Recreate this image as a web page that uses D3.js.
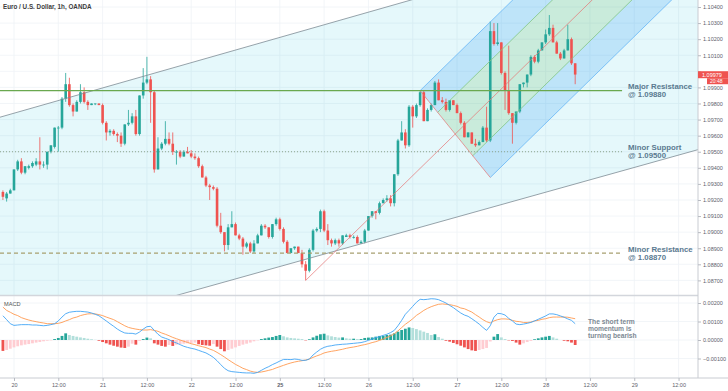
<!DOCTYPE html>
<html>
<head>
<meta charset="utf-8">
<script src="https://cdn.jsdelivr.net/npm/d3@7"></script>
<style>
  body { margin: 0; background: #fff; }
  svg { display: block; font-family: "Liberation Sans", Arial, sans-serif; }
</style>
</head>
<body>
<div id="chart"></div>
<script>
// EUR/USD 1h candles (bar 0 = 19th 21:00)
const opens = [
  1.0925,1.0921,1.0924,1.0926,1.0939,1.0944,1.0937,1.0940,1.0941,1.0942,
  1.0944,1.0942,1.0942,1.0950,1.0953,1.0965,1.0965,1.0983,1.0992,1.0979,
  1.0975,1.0981,1.0987,1.0981,1.0979,1.0980,1.0980,1.0979,1.0968,1.0962,
  1.0963,1.0961,1.0960,1.0955,1.0967,1.0968,1.0972,1.0961,1.0985,1.0993,
  1.0995,1.0987,1.0939,1.0952,1.0955,1.0958,1.0955,1.0950,1.0950,1.0947,
  1.0950,1.0949,1.0947,1.0946,1.0941,1.0934,1.0929,1.0928,1.0927,1.0904,
  1.0900,1.0892,1.0903,1.0905,1.0898,1.0896,1.0891,1.0893,1.0888,1.0893,
  1.0898,1.0904,1.0903,1.0897,1.0905,1.0908,1.0902,1.0894,1.0887,1.0890,
  1.0891,1.0887,1.0880,1.0876,1.0889,1.0901,1.0902,1.0913,1.0901,1.0895,
  1.0893,1.0895,1.0893,1.0897,1.0898,1.0897,1.0897,1.0893,1.0894,1.0901,
  1.0910,1.0913,1.0912,1.0918,1.0920,1.0921,1.0918,1.0936,1.0957,1.0962,
  1.0954,1.0978,1.0972,1.0979,1.0987,1.0969,1.0976,1.0979,1.0993,1.0982,
  1.0981,1.0976,1.0982,1.0979,1.0974,1.0968,1.0959,1.0962,1.0955,1.0954,
  1.0956,1.0965,1.0957,1.1025,1.1017,1.1018,1.0999,1.0988,1.0974,1.0968,
  1.0975,1.0992,1.0993,1.0998,1.1009,1.1006,1.1013,1.1018,1.1023,1.1027,
  1.1018,1.1011,1.1008,1.1013,1.1020,1.1005
];
const highs = [
  1.0926,1.0925,1.0927,1.0939,1.0945,1.0946,1.0941,1.0942,1.0944,1.0946,
  1.0959,1.0944,1.0950,1.0954,1.0965,1.0966,1.0984,1.0999,1.0996,1.0980,
  1.0982,1.0992,1.0990,1.0982,1.0980,1.0980,1.0980,1.0980,1.0969,1.0964,
  1.0964,1.0962,1.0962,1.0967,1.0976,1.0974,1.0976,1.0985,1.1002,1.1009,
  1.0997,1.0988,1.0959,1.0956,1.0969,1.0962,1.0962,1.0951,1.0951,1.0951,
  1.0953,1.0951,1.0949,1.0947,1.0942,1.0935,1.0930,1.0929,1.0928,1.0912,
  1.0900,1.0905,1.0913,1.0906,1.0899,1.0897,1.0894,1.0894,1.0895,1.0899,
  1.0905,1.0905,1.0903,1.0905,1.0909,1.0909,1.0903,1.0895,1.0890,1.0891,
  1.0891,1.0889,1.0882,1.0890,1.0902,1.0903,1.0914,1.0914,1.0905,1.0896,
  1.0896,1.0896,1.0898,1.0899,1.0899,1.0898,1.0898,1.0895,1.0902,1.0910,
  1.0913,1.0913,1.0919,1.0921,1.0923,1.0923,1.0936,1.0958,1.0969,1.0964,
  1.0979,1.0979,1.0980,1.0988,1.0988,1.0977,1.0980,1.0994,1.0995,1.0984,
  1.0983,1.0982,1.0982,1.0980,1.0975,1.0969,1.0962,1.0962,1.0958,1.0957,
  1.0966,1.0978,1.1031,1.1030,1.1030,1.1018,1.1000,1.1016,1.0974,1.0975,
  1.0992,1.0993,1.0998,1.1010,1.1010,1.1014,1.1018,1.1026,1.1035,1.1029,
  1.1019,1.1012,1.1014,1.1029,1.1021,1.1005
];
const lows = [
  1.0920,1.0919,1.0924,1.0926,1.0938,1.0936,1.0936,1.0939,1.0940,1.0941,
  1.0939,1.0940,1.0939,1.0949,1.0952,1.0950,1.0964,1.0981,1.0978,1.0972,
  1.0975,1.0980,1.0980,1.0976,1.0979,1.0979,1.0979,1.0967,1.0957,1.0960,
  1.0960,1.0956,1.0953,1.0954,1.0966,1.0967,1.0960,1.0960,1.0983,1.0992,
  1.0968,1.0937,1.0939,1.0951,1.0954,1.0954,1.0948,1.0942,1.0946,1.0947,
  1.0949,1.0946,1.0945,1.0940,1.0934,1.0928,1.0920,1.0926,1.0903,1.0899,
  1.0888,1.0889,1.0903,1.0898,1.0895,1.0886,1.0890,1.0887,1.0887,1.0893,
  1.0898,1.0902,1.0896,1.0896,1.0904,1.0901,1.0893,1.0887,1.0887,1.0889,
  1.0887,1.0878,1.0870,1.0875,1.0888,1.0900,1.0900,1.0900,1.0892,1.0891,
  1.0892,1.0891,1.0892,1.0897,1.0896,1.0896,1.0893,1.0893,1.0893,1.0901,
  1.0909,1.0908,1.0911,1.0918,1.0919,1.0916,1.0916,1.0935,1.0957,1.0952,
  1.0953,1.0965,1.0971,1.0978,1.0969,1.0969,1.0975,1.0979,1.0982,1.0980,
  1.0975,1.0975,1.0979,1.0974,1.0967,1.0959,1.0959,1.0955,1.0953,1.0954,
  1.0956,1.0956,1.0956,1.1016,1.1016,1.0998,1.0976,1.0973,1.0955,1.0967,
  1.0974,1.0990,1.0990,1.0997,1.1005,1.1005,1.1013,1.1017,1.1022,1.1018,
  1.1011,1.1007,1.1008,1.1013,1.1004,1.0992
];
const closes = [
  1.0922,1.0924,1.0926,1.0939,1.0944,1.0937,1.0941,1.0941,1.0943,1.0944,
  1.0942,1.0942,1.0950,1.0954,1.0965,1.0965,1.0983,1.0992,1.0979,1.0975,
  1.0981,1.0987,1.0981,1.0979,1.0980,1.0980,1.0979,1.0968,1.0962,1.0963,
  1.0961,1.0960,1.0955,1.0967,1.0968,1.0972,1.0961,1.0985,1.0993,1.0995,
  1.0987,1.0939,1.0952,1.0955,1.0958,1.0955,1.0950,1.0950,1.0947,1.0950,
  1.0949,1.0947,1.0946,1.0941,1.0934,1.0929,1.0928,1.0927,1.0904,1.0900,
  1.0892,1.0903,1.0905,1.0898,1.0896,1.0891,1.0893,1.0888,1.0893,1.0898,
  1.0904,1.0903,1.0897,1.0905,1.0908,1.0902,1.0894,1.0887,1.0890,1.0891,
  1.0887,1.0880,1.0876,1.0889,1.0901,1.0902,1.0913,1.0901,1.0895,1.0893,
  1.0895,1.0893,1.0898,1.0898,1.0897,1.0897,1.0893,1.0894,1.0901,1.0910,
  1.0913,1.0912,1.0918,1.0920,1.0921,1.0918,1.0936,1.0957,1.0962,1.0954,
  1.0978,1.0972,1.0979,1.0987,1.0969,1.0976,1.0979,1.0993,1.0982,1.0981,
  1.0976,1.0982,1.0979,1.0974,1.0968,1.0959,1.0962,1.0955,1.0954,1.0956,
  1.0965,1.0957,1.1025,1.1017,1.1018,1.0999,1.0988,1.0974,1.0968,1.0975,
  1.0992,1.0993,1.0998,1.1009,1.1006,1.1013,1.1018,1.1023,1.1027,1.1018,
  1.1011,1.1008,1.1013,1.1020,1.1005,1.0998
];

// MACD panel
const macdLine = [
  0.00131,0.00110,0.00088,0.00079,0.00081,0.00083,0.00083,0.00083,0.00081,0.00081,
  0.00079,0.00077,0.00079,0.00083,0.00088,0.00103,0.00124,0.00142,0.00150,0.00153,
  0.00155,0.00155,0.00153,0.00151,0.00146,0.00139,0.00131,0.00117,0.00103,0.00088,
  0.00074,0.00059,0.00047,0.00038,0.00036,0.00036,0.00032,0.00043,0.00059,0.00072,
  0.00074,0.00052,0.00031,0.00016,0.00009,0.00002,-0.00009,-0.00016,-0.00025,-0.00034,
  -0.00040,-0.00045,-0.00049,-0.00056,-0.00063,-0.00070,-0.00081,-0.00094,-0.00112,-0.00133,
  -0.00153,-0.00166,-0.00171,-0.00173,-0.00175,-0.00177,-0.00178,-0.00178,-0.00180,-0.00175,
  -0.00164,-0.00153,-0.00144,-0.00133,-0.00124,-0.00114,-0.00105,-0.00105,-0.00106,-0.00103,
  -0.00105,-0.00110,-0.00110,-0.00103,-0.00081,-0.00065,-0.00050,-0.00040,-0.00034,-0.00031,
  -0.00027,-0.00025,-0.00023,-0.00022,-0.00020,-0.00018,-0.00016,-0.00014,-0.00009,-0.00002,
  0.00005,0.00013,0.00018,0.00025,0.00031,0.00040,0.00052,0.00077,0.00106,0.00139,
  0.00160,0.00182,0.00204,0.00220,0.00218,0.00220,0.00223,0.00222,0.00218,0.00209,
  0.00200,0.00187,0.00175,0.00160,0.00146,0.00135,0.00128,0.00115,0.00101,0.00086,
  0.00068,0.00052,0.00077,0.00123,0.00144,0.00142,0.00135,0.00117,0.00103,0.00086,
  0.00083,0.00086,0.00090,0.00095,0.00103,0.00112,0.00121,0.00130,0.00141,0.00141,
  0.00137,0.00130,0.00123,0.00114,0.00106,0.00088
];
const signalLine = [
  0.00178,0.00160,0.00150,0.00139,0.00132,0.00121,0.00114,0.00108,0.00103,0.00099,
  0.00095,0.00092,0.00088,0.00088,0.00088,0.00090,0.00095,0.00103,0.00110,0.00119,
  0.00124,0.00132,0.00137,0.00141,0.00142,0.00141,0.00137,0.00132,0.00124,0.00117,
  0.00110,0.00099,0.00088,0.00077,0.00068,0.00063,0.00059,0.00056,0.00054,0.00054,
  0.00056,0.00052,0.00047,0.00038,0.00031,0.00023,0.00014,0.00007,0.00000,-0.00007,
  -0.00013,-0.00020,-0.00025,-0.00031,-0.00036,-0.00041,-0.00049,-0.00056,-0.00067,-0.00079,
  -0.00092,-0.00106,-0.00119,-0.00132,-0.00142,-0.00153,-0.00160,-0.00168,-0.00173,-0.00175,
  -0.00173,-0.00169,-0.00164,-0.00159,-0.00151,-0.00144,-0.00137,-0.00130,-0.00124,-0.00119,
  -0.00115,-0.00112,-0.00108,-0.00103,-0.00094,-0.00086,-0.00079,-0.00070,-0.00065,-0.00061,
  -0.00058,-0.00054,-0.00050,-0.00045,-0.00041,-0.00038,-0.00034,-0.00029,-0.00025,-0.00020,
  -0.00014,-0.00009,-0.00002,0.00005,0.00014,0.00022,0.00034,0.00049,0.00067,0.00085,
  0.00099,0.00115,0.00133,0.00146,0.00160,0.00171,0.00180,0.00187,0.00193,0.00195,
  0.00193,0.00191,0.00187,0.00182,0.00173,0.00169,0.00160,0.00151,0.00137,0.00124,
  0.00110,0.00099,0.00092,0.00103,0.00110,0.00114,0.00114,0.00112,0.00106,0.00101,
  0.00099,0.00095,0.00095,0.00097,0.00103,0.00106,0.00112,0.00115,0.00121,0.00124,
  0.00124,0.00124,0.00124,0.00123,0.00119,0.00115
];
const histogram = [
  -0.00059,-0.00054,-0.00047,-0.00040,-0.00034,-0.00029,-0.00025,-0.00022,-0.00018,-0.00014,
  -0.00011,-0.00007,-0.00004,-0.00002,0.00005,0.00011,0.00022,0.00036,0.00027,0.00022,
  0.00018,0.00014,0.00011,0.00007,0.00004,0.00001,-0.00004,-0.00011,-0.00018,-0.00025,
  -0.00031,-0.00036,-0.00041,-0.00043,-0.00036,-0.00020,-0.00025,-0.00005,0.00005,0.00013,
  0.00009,-0.00018,-0.00025,-0.00032,-0.00036,-0.00027,-0.00032,-0.00025,-0.00022,-0.00020,
  -0.00018,-0.00016,-0.00014,-0.00023,-0.00027,-0.00029,-0.00031,-0.00022,-0.00036,-0.00049,
  -0.00061,-0.00054,-0.00047,-0.00040,-0.00032,-0.00025,-0.00020,-0.00014,-0.00007,-0.00002,
  0.00005,0.00009,0.00013,0.00016,0.00022,0.00027,0.00020,0.00014,0.00011,0.00009,
  0.00007,0.00005,-0.00002,0.00004,0.00014,0.00023,0.00031,0.00034,0.00025,0.00020,
  0.00016,0.00013,0.00014,0.00009,0.00007,0.00007,0.00005,0.00005,0.00011,0.00013,
  0.00014,0.00018,0.00022,0.00023,0.00027,0.00029,0.00036,0.00045,0.00054,0.00061,
  0.00068,0.00065,0.00059,0.00052,0.00045,0.00038,0.00027,0.00031,0.00016,0.00007,
  -0.00004,-0.00009,-0.00016,-0.00023,-0.00031,-0.00040,-0.00049,-0.00056,-0.00059,-0.00054,
  -0.00049,-0.00043,-0.00008,0.00018,0.00032,0.00014,0.00005,-0.00002,-0.00005,-0.00014,
  -0.00025,-0.00018,-0.00011,-0.00005,0.00004,0.00009,0.00014,0.00018,0.00022,0.00014,
  0.00007,0.00000,-0.00004,-0.00007,-0.00014,-0.00027
];

// axis ticks
const timeTickBars = [3, 15, 27, 39, 51, 63, 75, 87, 99, 111, 123, 135, 147, 159, 171, 183];
const timeTickLabels = ["20", "12:00", "21", "12:00", "22", "12:00", "25", "12:00",
                        "26", "12:00", "27", "12:00", "28", "12:00", "29", "12:00"];
const priceTicks = [1.087, 1.088, 1.089, 1.090, 1.091, 1.092, 1.093, 1.094, 1.095,
                    1.096, 1.097, 1.098, 1.099, 1.100, 1.101, 1.102, 1.103, 1.104];
const macdTicks = [-0.001, 0, 0.001, 0.002];

// drawings: [bar, price] anchors
const channelUpper = [[0, 1.0972], [110, 1.1044]];
const channelLower = [[60, 1.0869], [180, 1.0946]];
const pitchfork = [[82, 1.0870], [113, 1.0988], [132, 1.0934]];
const levelPrices = [1.0988, 1.0950, 1.0887];
const levelNames = ["Major Resistance", "Minor Support", "Minor Resistance"];
const levelEndBar = 167.7;
const lastPrice = 1.09979;
const noteLines = ["The short term", "momentum is", "turning bearish"];

const width = 728;
const height = 391;
const plotRight = 698;
const paneBottom = 295;
const macdTop = 296.5;
const axisY = 378;
const axisFont = "Liberation Sans, Arial, sans-serif";

const x = d3.scaleLinear().domain([0, 189]).range([2.92, 2.92 + 189 * 3.692]);
const y = d3.scaleLinear().domain([1.087, 1.104]).range([280.4, 7]);
const yM = d3.scaleLinear().domain([-0.001, 0.002]).range([358.5, 303]);

const svg = d3.select("#chart")
  .append("svg")
  .attr("width", width)
  .attr("height", height);

const defs = svg.append("defs");
defs.append("clipPath").attr("id", "clipPrice")
  .append("rect").attr("x", 0).attr("y", 0).attr("width", plotRight).attr("height", paneBottom);
defs.append("clipPath").attr("id", "clipMacd")
  .append("rect").attr("x", 0).attr("y", macdTop).attr("width", plotRight).attr("height", axisY - macdTop);

// grid
const grid = svg.append("g").attr("stroke", "#eff2f6").attr("stroke-width", 0.8);
grid.selectAll(".vg").data(timeTickBars).enter().append("line")
  .attr("x1", function(d) { return x(d); })
  .attr("x2", function(d) { return x(d); })
  .attr("y1", 0).attr("y2", axisY);
grid.selectAll(".hg").data(priceTicks).enter().append("line")
  .attr("x1", 0).attr("x2", plotRight)
  .attr("y1", function(d) { return y(d); })
  .attr("y2", function(d) { return y(d); });
grid.selectAll(".mg").data(macdTicks).enter().append("line")
  .attr("x1", 0).attr("x2", plotRight)
  .attr("y1", function(d) { return yM(d); })
  .attr("y2", function(d) { return yM(d); });

const price = svg.append("g").attr("clip-path", "url(#clipPrice)");

function along(a, b, i) {
  return a[1] + (b[1] - a[1]) * (i - a[0]) / (b[0] - a[0]);
}
const path = d3.line()
  .x(function(d) { return x(d[0]); })
  .y(function(d) { return y(d[1]); });

// big rising channel
const farL = -5, farR = 260;
price.append("path")
  .attr("d", path([
    [farL, along(channelUpper[0], channelUpper[1], farL)],
    [farR, along(channelUpper[0], channelUpper[1], farR)],
    [farR, along(channelLower[0], channelLower[1], farR)],
    [farL, along(channelLower[0], channelLower[1], farL)]
  ]) + "Z")
  .attr("fill", "rgba(0,188,212,0.1)");

// pitchfork
const p1 = pitchfork[0], p2 = pitchfork[1], p3 = pitchfork[2];
const mid = [(p2[0] + p3[0]) / 2, (p2[1] + p3[1]) / 2];
const slope = (mid[1] - p1[1]) / (mid[0] - p1[0]);
function tine(t) {
  const s = [mid[0] + t * (p2[0] - mid[0]), mid[1] + t * (p2[1] - mid[1])];
  return [s, [farR, s[1] + slope * (farR - s[0])]];
}
function zone(ta, tb) {
  const a = tine(ta), b = tine(tb);
  return path([a[0], a[1], b[1], b[0]]) + "Z";
}
price.append("path").attr("d", zone(0.5, 1)).attr("fill", "rgba(33,150,243,0.2)");
price.append("path").attr("d", zone(-1, -0.5)).attr("fill", "rgba(33,150,243,0.2)");
price.append("path").attr("d", zone(-0.5, 0.5)).attr("fill", "rgba(76,175,80,0.18)");

// candles
const bars = d3.range(closes.length);
const candle = price.append("g");
candle.selectAll("line").data(bars).enter().append("line")
  .attr("x1", function(i) { return x(i); })
  .attr("x2", function(i) { return x(i); })
  .attr("y1", function(i) { return y(highs[i]); })
  .attr("y2", function(i) { return y(lows[i]); })
  .attr("stroke", function(i) { return closes[i] >= opens[i] ? "#26a69a" : "#ef5350"; })
  .attr("stroke-width", 0.8);
candle.selectAll("rect").data(bars).enter().append("rect")
  .attr("x", function(i) { return x(i) - 1.3; })
  .attr("width", 2.6)
  .attr("y", function(i) { return y(Math.max(opens[i], closes[i])); })
  .attr("height", function(i) { return Math.max(0.8, Math.abs(y(opens[i]) - y(closes[i]))); })
  .attr("fill", function(i) { return closes[i] >= opens[i] ? "#26a69a" : "#ef5350"; });

// channel borders
[channelUpper, channelLower].forEach(function(c) {
  price.append("path")
    .attr("d", path([[farL, along(c[0], c[1], farL)], [farR, along(c[0], c[1], farR)]]))
    .attr("stroke", "#7d8b94").attr("stroke-width", 0.8).attr("fill", "none");
});

// pitchfork lines
[[1, "#64b5f6"], [-1, "#64b5f6"], [0.5, "#81c784"], [-0.5, "#81c784"]].forEach(function(t) {
  price.append("path").attr("d", path(tine(t[0])))
    .attr("stroke", t[1]).attr("stroke-width", 0.8).attr("fill", "none");
});
price.append("path").attr("d", path([p1, tine(0)[1]]))
  .attr("stroke", "#e57373").attr("stroke-width", 0.7).attr("fill", "none");
price.append("path").attr("d", path([p2, p3]))
  .attr("stroke", "#e57373").attr("stroke-width", 0.7).attr("fill", "none");

// horizontal levels
const levelStroke = ["#6aa84f", "#8ea58c", "#a8a070"];
const levelDash = [null, "1,2", "4,3"];
const levelWidth = [1.4, 1, 1.2];
levelPrices.forEach(function(p, k) {
  svg.append("line")
    .attr("x1", 0).attr("x2", x(levelEndBar))
    .attr("y1", y(p)).attr("y2", y(p))
    .attr("stroke", levelStroke[k])
    .attr("stroke-width", levelWidth[k])
    .attr("stroke-dasharray", levelDash[k]);
  const t = svg.append("text")
    .attr("x", x(levelEndBar) + 6)
    .attr("y", y(p) - 1.5)
    .attr("fill", "#5a7a90")
    .attr("font-size", 7.8)
    .attr("font-weight", "bold");
  t.append("tspan").text(levelNames[k]);
  t.append("tspan").attr("x", x(levelEndBar) + 6).attr("dy", 8).text("@ " + d3.format(".5f")(p));
});

// MACD pane
const macd = svg.append("g").attr("clip-path", "url(#clipMacd)");
macd.selectAll("rect").data(bars).enter().append("rect")
  .attr("x", function(i) { return x(i) - 1.4; })
  .attr("width", 2.8)
  .attr("y", function(i) { return Math.min(yM(0), yM(histogram[i])); })
  .attr("height", function(i) { return Math.abs(yM(histogram[i]) - yM(0)); })
  .attr("fill", function(i) {
    const v = histogram[i];
    const prev = i > 0 ? histogram[i - 1] : v;
    if (v >= 0) return v >= prev ? "#26a69a" : "#b2dfdb";
    return v <= prev ? "#ef5350" : "#ffcdd2";
  });
const mLine = d3.line()
  .x(function(d, i) { return x(i); })
  .y(function(d) { return yM(d); });
macd.append("path").attr("d", mLine(signalLine))
  .attr("stroke", "#ff9a50").attr("stroke-width", 0.9).attr("fill", "none");
macd.append("path").attr("d", mLine(macdLine))
  .attr("stroke", "#42a5f5").attr("stroke-width", 0.9).attr("fill", "none");

svg.append("text").attr("x", 4).attr("y", 305.5)
  .attr("font-size", 5.6).attr("fill", "#555").text("MACD");

noteLines.forEach(function(s, k) {
  svg.append("text")
    .attr("x", 588).attr("y", 324 + k * 7)
    .attr("font-size", 6.7).attr("font-weight", "bold")
    .attr("fill", "#7d8993")
    .text(s);
});

// pane separator and frame
svg.append("line").attr("x1", 0).attr("x2", plotRight).attr("y1", paneBottom + 0.5).attr("y2", paneBottom + 0.5)
  .attr("stroke", "#d3d6dc").attr("stroke-width", 1.6);
svg.append("line").attr("x1", 0).attr("x2", width).attr("y1", axisY).attr("y2", axisY)
  .attr("stroke", "#c9ccd2").attr("stroke-width", 1);
svg.append("line").attr("x1", plotRight).attr("x2", plotRight).attr("y1", 0).attr("y2", axisY)
  .attr("stroke", "#c9ccd2").attr("stroke-width", 1);

// axes (font set after d3 applies its defaults)
function styleAxis(g) {
  g.attr("font-size", 5.5).attr("font-family", axisFont);
  g.select(".domain").remove();
  g.selectAll("line").attr("stroke", "#b7bac1");
  g.selectAll("text").attr("fill", "#5d606b");
}
const yl = y(lastPrice);
svg.append("g")
  .attr("transform", "translate(" + plotRight + ",0)")
  .call(d3.axisRight(y).tickValues(priceTicks).tickFormat(d3.format(".5f")).tickSize(3).tickPadding(2))
  .call(styleAxis)
  .call(function(g) {
    // the last-price tag hides the label right under it
    g.selectAll("text").filter(function(d) { return Math.abs(y(d) - yl) < 5; }).remove();
  });
svg.append("g")
  .attr("transform", "translate(" + plotRight + ",0)")
  .call(d3.axisRight(yM).tickValues(macdTicks).tickFormat(d3.format(".5f")).tickSize(3).tickPadding(2))
  .call(styleAxis);
const xAxis = svg.append("g")
  .attr("transform", "translate(0," + axisY + ")")
  .call(d3.axisBottom(x).tickValues(timeTickBars)
    .tickFormat(function(d, i) { return timeTickLabels[i]; })
    .tickSize(3).tickPadding(2))
  .call(styleAxis);
xAxis.selectAll("text").filter(function(d, i) { return timeTickLabels[i] === "25"; })
  .attr("font-weight", "bold");

// last price tag
svg.append("rect").attr("x", plotRight).attr("y", yl - 3.5).attr("width", width - plotRight).attr("height", 7)
  .attr("fill", "#ef5350");
svg.append("rect").attr("x", plotRight + 9).attr("y", yl + 3.5).attr("width", width - plotRight - 9).attr("height", 6)
  .attr("fill", "#ef5350");
svg.append("text").attr("x", plotRight + 4).attr("y", yl + 2)
  .attr("font-size", 5.5).attr("font-family", axisFont).attr("fill", "#fff").text(d3.format(".5f")(lastPrice));
svg.append("text").attr("x", plotRight + 12).attr("y", yl + 8.3)
  .attr("font-size", 5).attr("font-family", axisFont).attr("fill", "#fff").text("20:48");

// title
svg.append("text").attr("x", 3).attr("y", 9)
  .attr("font-size", 6.3).attr("font-weight", 600).attr("fill", "#3d3d3d")
  .text("Euro / U.S. Dollar, 1h, OANDA");
</script>
</body>
</html>
